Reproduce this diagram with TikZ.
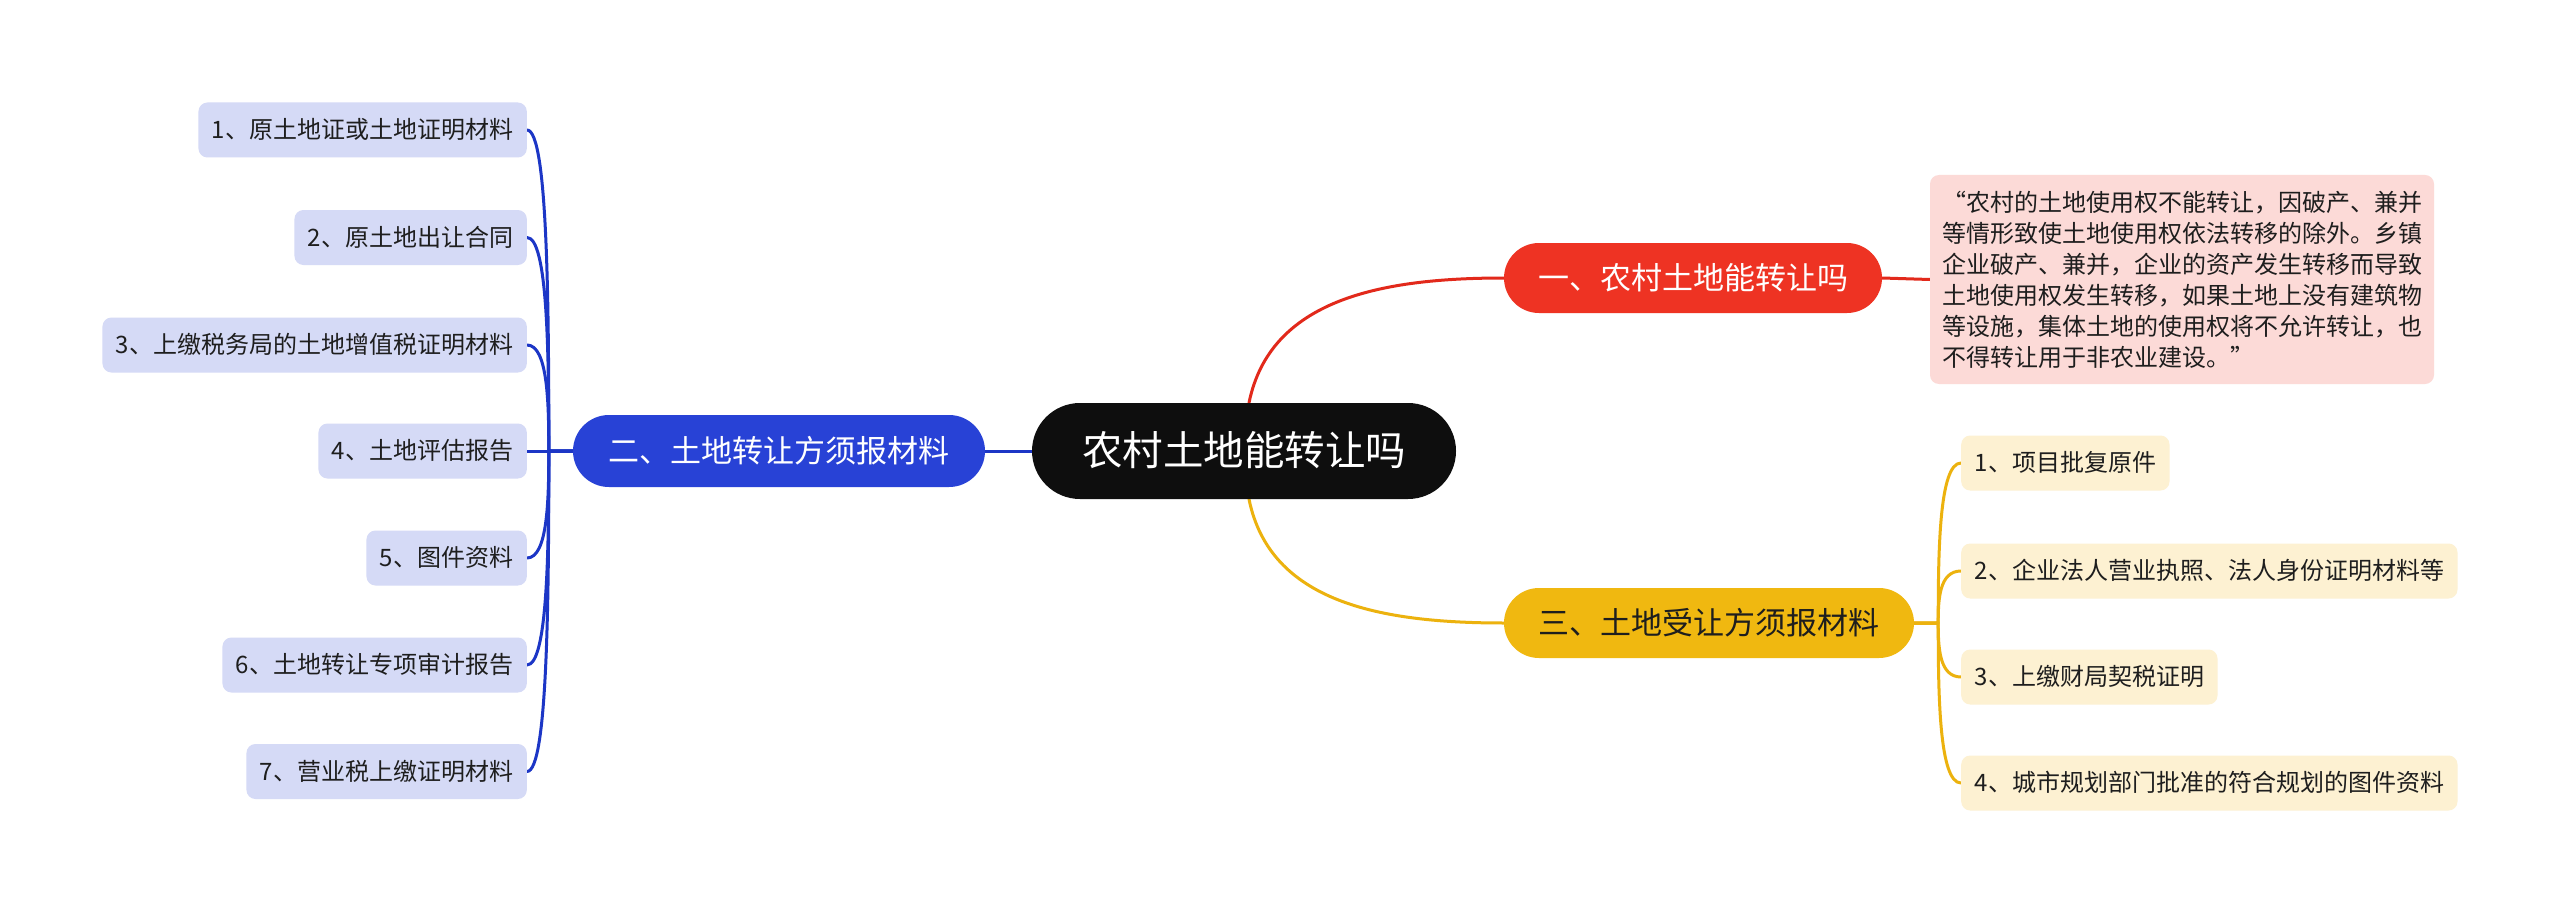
\documentclass[tikz,border=0pt]{standalone}
\usepackage{fontspec}
\setmainfont{Noto Sans CJK SC}
\usetikzlibrary{backgrounds,calc}
\definecolor{rootfill}{HTML}{0E0E0E}
\definecolor{bluemain}{HTML}{2842D6}
\definecolor{blueline}{HTML}{1C36C6}
\definecolor{bluechild}{HTML}{D5DAF6}
\definecolor{redmain}{HTML}{EE3323}
\definecolor{redline}{HTML}{E2291B}
\definecolor{redchild}{HTML}{FCDAD7}
\definecolor{yelmain}{HTML}{F0B810}
\definecolor{yelline}{HTML}{ECB20E}
\definecolor{yelchild}{HTML}{FDF1D2}
\definecolor{darktext}{HTML}{1E1E1E}
\begin{document}
\begin{tikzpicture}[x=1pt,y=-1pt,
  rootbox/.style={text height=34pt, text depth=5pt, fill=rootfill, text=white, rounded corners=48pt,
    minimum width=424pt, minimum height=96pt, inner xsep=0pt,
    font=\fontsize{40.5}{48}\selectfont},
  branchbox/.style={text height=26pt, text depth=4pt, rounded corners=35pt, minimum height=70pt,
    inner xsep=0pt, font=\fontsize{31}{37}\selectfont},
  childbox/.style={text height=20pt, text depth=3pt, rounded corners=9pt, minimum height=55pt,
    inner xsep=13.5pt, text=darktext, font=\fontsize{24}{29}\selectfont},
  bluechildbox/.style={childbox, fill=bluechild, anchor=east},
  yelchildbox/.style={childbox, fill=yelchild, anchor=west},
  conn/.style={line width=3pt, line cap=round, line join=round}
]
\useasboundingbox (0,0) rectangle (2560,915);

% root and main branches
\node[rootbox] (root) at (1244,451) {农村土地能转让吗};
\node[branchbox, fill=bluemain, text=white, minimum width=412pt, minimum height=72pt, rounded corners=36pt] (blue) at (779,451) {二、土地转让方须报材料};
\node[branchbox, fill=redmain, text=white, minimum width=378pt] (red) at (1693,278) {一、农村土地能转让吗};
\node[branchbox, fill=yelmain, text=darktext, minimum width=410pt] (yel) at (1709,623) {三、土地受让方须报材料};

% red detail
\node[fill=redchild, rounded corners=9pt, text width=480pt, align=left, inner xsep=12pt, inner ysep=0pt,
  minimum height=209pt, text=darktext, font=\fontsize{24}{31}\selectfont] (redtext) at (2182,279.5)
  {“农村的土地使用权不能转让，因破产、兼并\\等情形致使土地使用权依法转移的除外。乡镇\\企业破产、兼并，企业的资产发生转移而导致\\土地使用权发生转移，如果土地上没有建筑物\\等设施，集体土地的使用权将不允许转让，也\\不得转让用于非农业建设。”};

% blue children
\node[bluechildbox] (b1) at (527,130) {1、原土地证或土地证明材料};
\node[bluechildbox] (b2) at (527,237.5) {2、原土地出让合同};
\node[bluechildbox] (b3) at (527,345) {3、上缴税务局的土地增值税证明材料};
\node[bluechildbox] (b4) at (527,451) {4、土地评估报告};
\node[bluechildbox] (b5) at (527,558) {5、图件资料};
\node[bluechildbox] (b6) at (527,665) {6、土地转让专项审计报告};
\node[bluechildbox] (b7) at (527,771.5) {7、营业税上缴证明材料};

% yellow children
\node[yelchildbox] (y1) at (1961,463) {1、项目批复原件};
\node[yelchildbox] (y2) at (1961,571) {2、企业法人营业执照、法人身份证明材料等};
\node[yelchildbox] (y3) at (1961,677) {3、上缴财局契税证明};
\node[yelchildbox] (y4) at (1961,783) {4、城市规划部门批准的符合规划的图件资料};

\coordinate (bs) at ([xshift=-24pt]blue.west);
\coordinate (ys) at ([xshift=24pt]yel.east);

\begin{scope}[on background layer]
  \fill[white] (0,0) rectangle (2560,915);
  \draw[conn, redline] ([xshift=5pt]root.north) .. controls +(21,-103) and +(-124,0) .. (red.west);
  \draw[conn, yelline] ([xshift=5pt]root.south) .. controls +(21,103) and +(-124,0) .. (yel.west);
  \draw[conn, blueline] (root.west) -- (blue.east);
  \draw[conn, redline] (red.east) -- (redtext.west);
  \foreach \c in {b1,b2,b3,b5,b6,b7}
    \draw[conn, blueline] (blue.west) -- (bs) .. controls ($(bs)!0.45!(bs |- \c.east)$) and ($(bs |- \c.east)+(-1,0)$) .. (\c.east);
  \draw[conn, blueline] (blue.west) -- (b4.east);
  \foreach \c in {y1,y2,y3,y4}
    \draw[conn, yelline] (yel.east) -- (ys) .. controls ($(ys)!0.45!(ys |- \c.west)$) and ($(ys |- \c.west)+(1,0)$) .. (\c.west);
\end{scope}
\end{tikzpicture}
\end{document}
